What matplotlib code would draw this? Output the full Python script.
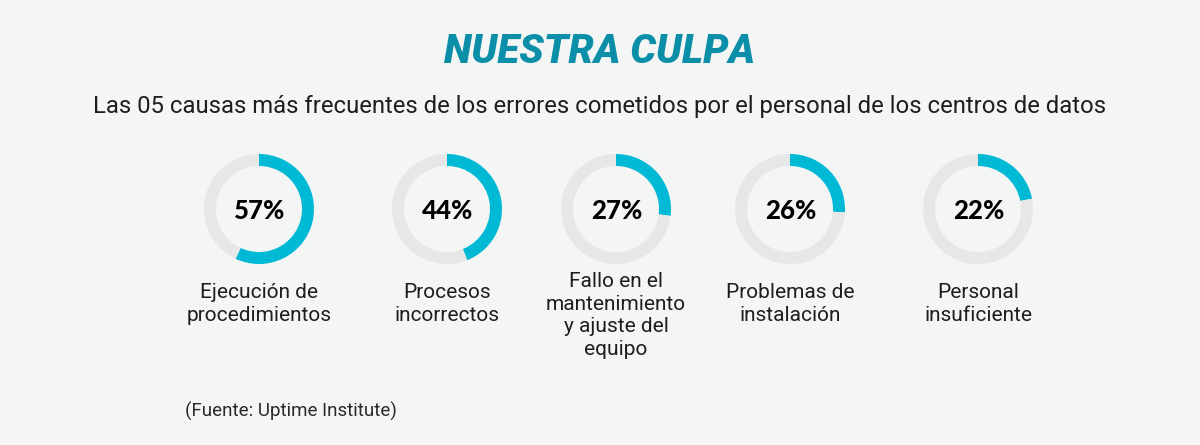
import matplotlib
matplotlib.use("Agg")
import matplotlib.pyplot as plt

# Daten
titulo = "NUESTRA CULPA"
subtitulo = "Las 05 causas más frecuentes de los errores cometidos por el personal de los centros de datos"
porcentajes = [57, 44, 27, 26, 22]
causas = [
    "Ejecución de\nprocedimientos",
    "Procesos\nincorrectos",
    "Fallo en el\nmantenimiento\ny ajuste del\nequipo",
    "Problemas de\ninstalación",
    "Personal\ninsuficiente",
]
fuente = "(Fuente: Uptime Institute)"

# Layout (Pixel)
W, H = 1200, 445
centros_x = [259, 447, 616, 790, 978]
centro_y = 209
radio = 55
grosor = 12

fondo = "#f4f5f5"
azul = "#00b9d5"
gris = "#e7e7e7"
teal = "#0b8ea8"
texto = "#1e1e1e"

fig = plt.figure(figsize=(W / 100, H / 100), dpi=100, facecolor=fondo)
ax = fig.add_axes([0, 0, 1, 1])
ax.set_xlim(0, W)
ax.set_ylim(H, 0)
ax.axis("off")

ax.text(600, 52, titulo, ha="center", va="center", fontsize=29,
        fontfamily="Roboto", fontweight="black", fontstyle="italic", color=teal)
ax.text(600, 107, subtitulo, ha="center", va="center", fontsize=17.2,
        fontfamily="Roboto", fontweight="normal", color=texto)

for cx, pct, causa in zip(centros_x, porcentajes, causas):
    # Ring als Donut
    pax = fig.add_axes([(cx - radio) / W, 1 - (centro_y + radio) / H,
                        2 * radio / W, 2 * radio / H])
    pax.pie([pct, 100 - pct], colors=[azul, gris], startangle=90,
            counterclock=False, radius=1,
            wedgeprops=dict(width=grosor / radio, linewidth=0))
    pax.set_xlim(-1, 1)
    pax.set_ylim(-1, 1)
    pax.set_aspect("equal")
    pax.axis("off")

    ax.text(cx + 1, centro_y + 2, f"{pct}%", ha="center", va="center",
            fontsize=18.5, fontfamily="Lato", fontweight="black", color="black")

    n_lineas = causa.count("\n") + 1
    y_top = 283 if n_lineas <= 2 else 272
    ax.text(cx, y_top, causa, ha="center", va="top", fontsize=15,
            fontfamily="Roboto", fontweight="normal", color=texto,
            linespacing=1.24)

ax.text(185, 411, fuente, ha="left", va="center", fontsize=13.5,
        fontfamily="Roboto", fontweight="normal", color="#2a2a2a")

fig.savefig("out.png", dpi=100, facecolor=fondo)
